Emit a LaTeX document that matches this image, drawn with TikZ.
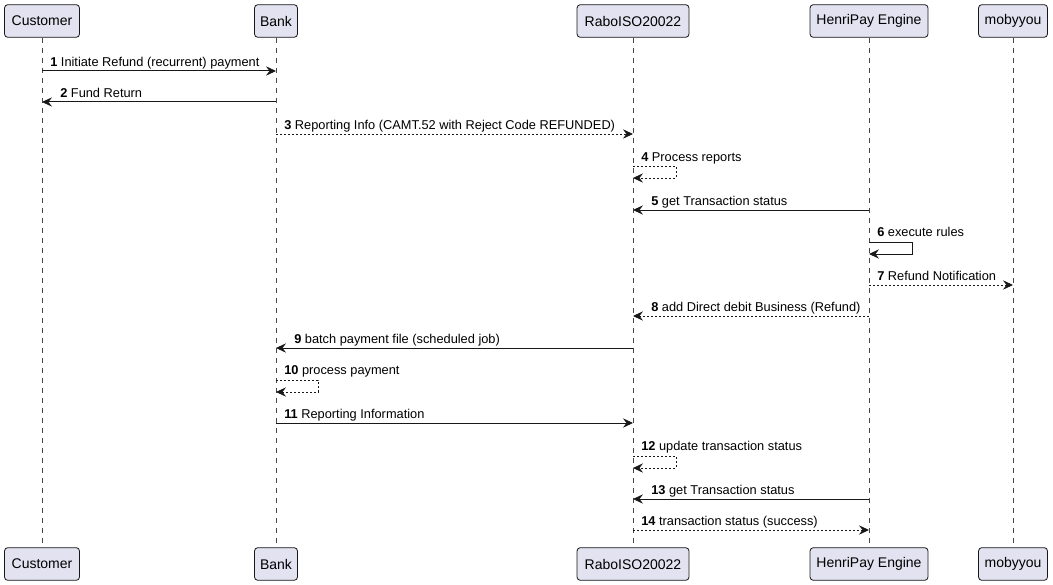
\documentclass[tikz,border=0pt]{standalone}
\usepackage{fontspec}
\setmainfont{Liberation Sans}
\usetikzlibrary{arrows.meta}
\definecolor{pfill}{HTML}{E2E2F0}
\definecolor{pline}{HTML}{181818}
\tikzset{
  part/.style={draw=pline, fill=pfill, rounded corners=2.5pt, line width=0.6pt,
    minimum height=24.5pt, inner xsep=4pt, font=\fontsize{10.5pt}{12pt}\selectfont, text=black},
  life/.style={draw=pline!80, line width=0.5pt, dash pattern=on 3.75pt off 3.75pt},
  msg/.style={draw=pline, line width=0.75pt, -{Stealth[length=7.5pt,width=7pt,inset=2.6pt]}},
  ret/.style={msg, dash pattern=on 1.5pt off 1.5pt},
  lbl/.style={anchor=base west, inner sep=0pt, font=\fontsize{9.6pt}{11pt}\selectfont}
}
\newcommand{\mnum}[1]{\textbf{#1}\ }
\begin{document}
\begin{tikzpicture}[x=0.75pt,y=-0.75pt]
\useasboundingbox (0,0) rectangle (1053,585);
% participants
\def\xC{42}\def\xB{276}\def\xR{633}\def\xH{869}\def\xM{1013}
\node[part, minimum width=56.25pt] (cT) at (\xC,21) {Customer};
\node[part, minimum width=32.25pt] (bT) at (\xB,21) {Bank};
\node[part, minimum width=84pt] (rT) at (\xR,21) {RaboISO20022};
\node[part, minimum width=88.5pt] (hT) at (\xH,21) {HenriPay Engine};
\node[part, minimum width=51.75pt] (mT) at (\xM,21) {mobyyou};
\node[part, minimum width=56.25pt] (cB) at (\xC,564) {Customer};
\node[part, minimum width=32.25pt] (bB) at (\xB,564) {Bank};
\node[part, minimum width=84pt] (rB) at (\xR,564) {RaboISO20022};
\node[part, minimum width=88.5pt] (hB) at (\xH,564) {HenriPay Engine};
\node[part, minimum width=51.75pt] (mB) at (\xM,564) {mobyyou};
\foreach \p in {c,b,r,h,m} \draw[life] (\p T.south) -- (\p B.north);
% message coordinates
\coordinate (c1) at (\xC,71);  \coordinate (b1) at (\xB,71);
\coordinate (b2) at (\xB,102); \coordinate (c2) at (\xC,102);
\coordinate (b3) at (\xB,134); \coordinate (r3) at (\xR,134);
\coordinate (r5) at (\xR,210); \coordinate (h5) at (\xH,210);
\coordinate (h7) at (\xH,285); \coordinate (m7) at (\xM,285);
\coordinate (h8) at (\xH,316); \coordinate (r8) at (\xR,316);
\coordinate (r9) at (\xR,348); \coordinate (b9) at (\xB,348);
\coordinate (b11) at (\xB,423); \coordinate (r11) at (\xR,423);
\coordinate (h13) at (\xH,499); \coordinate (r13) at (\xR,499);
\coordinate (r14) at (\xR,530); \coordinate (h14) at (\xH,530);
% 1
\draw[msg] (c1) -- (b1);
\node[lbl] (l1) at (\xC+8,67) {\mnum{1}Initiate Refund (recurrent) payment};
% 2
\draw[msg] (b2) -- (c2);
\node[lbl] (l2) at (\xC+18,98) {\mnum{2}Fund Return};
% 3
\draw[ret] (b3) -- (r3);
\node[lbl] (l3) at (\xB+8,129.5) {\mnum{3}Reporting Info (CAMT.52 with Reject Code REFUNDED)};
% 4 self
\draw[ret] (\xR,166) -- (\xR+43,166) -- (\xR+43,178) -- (\xR,178);
\node[lbl] (l4) at (\xR+8,161) {\mnum{4}Process reports};
% 5
\draw[msg] (h5) -- (r5);
\node[lbl] (l5) at (\xR+18,205) {\mnum{5}get Transaction status};
% 6 self
\draw[msg] (\xH,242) -- (\xH+43,242) -- (\xH+43,254) -- (\xH,254);
\node[lbl] (l6) at (\xH+8,236) {\mnum{6}execute rules};
% 7
\draw[ret] (h7) -- (m7);
\node[lbl] (l7) at (\xH+8,280) {\mnum{7}Refund Notification};
% 8
\draw[ret] (h8) -- (r8);
\node[lbl] (l8) at (\xR+18,311.5) {\mnum{8}add Direct debit Business (Refund)};
% 9
\draw[msg] (r9) -- (b9);
\node[lbl] (l9) at (\xB+18,343.5) {\mnum{9}batch payment file (scheduled job)};
% 10 self
\draw[ret] (\xB,380) -- (\xB+42,380) -- (\xB+42,392) -- (\xB,392);
\node[lbl] (l10) at (\xB+8,374) {\mnum{10}process payment};
% 11
\draw[msg] (b11) -- (r11);
\node[lbl] (l11) at (\xB+8,418.5) {\mnum{11}Reporting Information};
% 12 self
\draw[ret] (\xR,456) -- (\xR+43,456) -- (\xR+43,468) -- (\xR,468);
\node[lbl] (l12) at (\xR+8,450) {\mnum{12}update transaction status};
% 13
\draw[msg] (h13) -- (r13);
\node[lbl] (l13) at (\xR+18,494) {\mnum{13}get Transaction status};
% 14
\draw[ret] (r14) -- (h14);
\node[lbl] (l14) at (\xR+8,525) {\mnum{14}transaction status (success)};
\end{tikzpicture}
\end{document}
